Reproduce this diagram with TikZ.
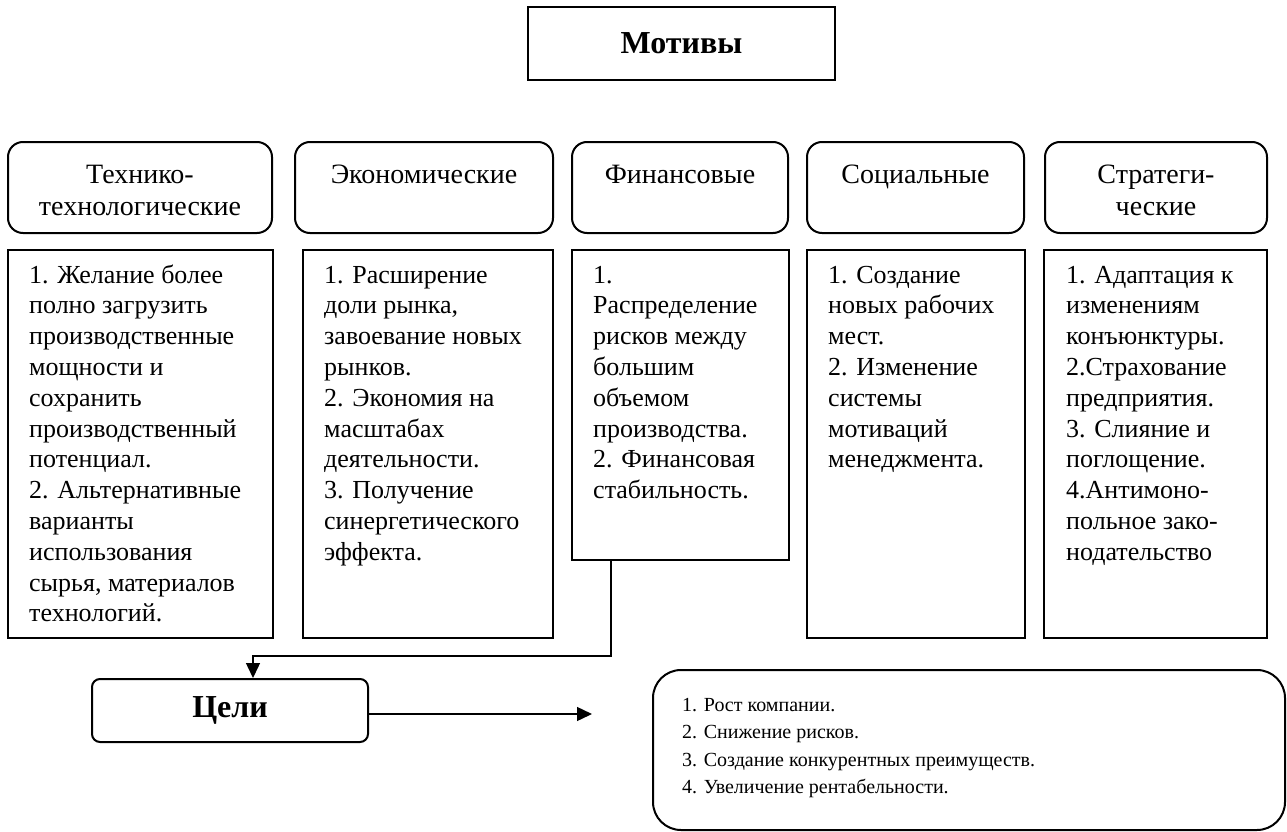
\documentclass[tikz,border=0pt]{standalone}
\usepackage{fontspec}
\setmainfont{Liberation Serif}
\usetikzlibrary{arrows.meta}

\begin{document}
\begin{tikzpicture}[x=1pt,y=-1pt,
    titlebox/.style={draw, line width=2pt, inner sep=0pt, font=\fontsize{32}{36}\selectfont\bfseries},
    headbox/.style={draw, line width=2pt, rounded corners=15pt, minimum height=91pt},
    headtext/.style={align=center, anchor=base, inner sep=0pt, font=\fontsize{28}{32}\selectfont},
    listbox/.style={draw, line width=2pt},
    listtext/.style={align=left, anchor=base west, inner sep=0pt, font=\fontsize{26}{30.8}\selectfont},
    goaltext/.style={align=left, anchor=base west, inner sep=0pt, font=\fontsize{20}{27.5}\selectfont},
    link/.style={line width=1.4pt, -{Triangle[length=15pt,width=14pt]}}]
    \useasboundingbox (0,0) rectangle (1287,832);

    \node[titlebox, minimum width=307pt, minimum height=73pt] (motivy) at (681.5,43.5) {Мотивы};

    \node[headbox, minimum width=264pt] (tech)  at (140,187.5)    {};
    \node[headbox, minimum width=258pt] (econ)  at (424,187.5)    {};
    \node[headbox, minimum width=216pt] (fin)   at (680,187.5)    {};
    \node[headbox, minimum width=217pt] (soc)   at (915.5,187.5)  {};
    \node[headbox, minimum width=222pt] (strat) at (1156,187.5)   {};
    \node[headtext] (techT)  at (140,215)   {Технико-\\технологические};
    \node[headtext] (econT)  at (424,183)   {Экономические};
    \node[headtext] (finT)   at (680,183)   {Финансовые};
    \node[headtext] (socT)   at (915.5,183) {Социальные};
    \node[headtext] (stratT) at (1156,215)  {Стратеги-\\ческие};

    \node[listbox, minimum width=265pt, minimum height=388pt] (techL)  at (140.5,444)  {};
    \node[listbox, minimum width=250pt, minimum height=388pt] (econL)  at (428,444)    {};
    \node[listbox, minimum width=217pt, minimum height=310pt] (finL)   at (680.5,405)  {};
    \node[listbox, minimum width=218pt, minimum height=388pt] (socL)   at (916,444)    {};
    \node[listbox, minimum width=223pt, minimum height=388pt] (stratL) at (1155.5,444) {};
    \node[listtext] (techS) at (29,621.8) {1. Желание более\\полно загрузить\\производственные\\мощности и\\сохранить\\производственный\\потенциал.\\2. Альтернативные\\варианты\\использования\\сырья, материалов\\технологий.};
    \node[listtext] (econS) at (324,560.2) {1. Расширение\\доли рынка,\\завоевание новых\\рынков.\\2. Экономия на\\масштабах\\деятельности.\\3. Получение\\синергетического\\эффекта.};
    \node[listtext] (finS) at (593,498.6) {1.\\Распределение\\рисков между\\большим\\объемом\\производства.\\2. Финансовая\\стабильность.};
    \node[listtext] (socS) at (828,467.8) {1. Создание\\новых рабочих\\мест.\\2. Изменение\\системы\\мотиваций\\менеджмента.};
    \node[listtext] (stratS) at (1066,560.2) {1. Адаптация к\\изменениям\\конъюнктуры.\\2.Страхование\\предприятия.\\3. Слияние и\\поглощение.\\4.Антимоно-\\польное зако-\\нодательство};

    \node[titlebox, rounded corners=8pt, minimum width=276pt, minimum height=63pt] (celi) at (230,710.5) {Цели};
    \node[listbox, rounded corners=28pt, minimum width=632pt, minimum height=160pt] (goals) at (969,750) {};
    \node[goaltext] (goalsT) at (682,793.5) {1. Рост компании.\\2. Снижение рисков.\\3. Создание конкурентных преимуществ.\\4. Увеличение рентабельности.};

    \coordinate (bend) at (611,656);
    \coordinate (drop) at (253,656);
    \coordinate (tip)  at (592,714);
    \draw[link] (finL.south -| bend) -- (bend) -- (drop) -- (drop |- celi.north);
    \draw[link] (celi.east |- tip) -- (tip);
\end{tikzpicture}
\end{document}
